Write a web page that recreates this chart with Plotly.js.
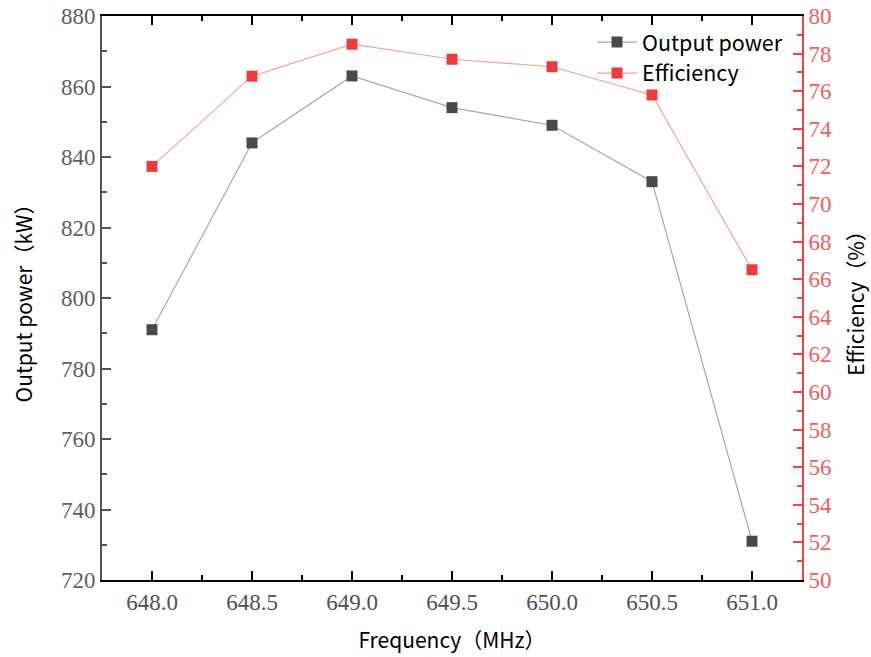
<!DOCTYPE html>
<html>
<head>
<meta charset="utf-8">
<script src="https://cdn.plot.ly/plotly-3.0.1.min.js"></script>
<style>html,body{margin:0;padding:0;background:#fff;}#chart{width:871px;height:657px;}</style>
</head>
<body>
<div id="chart"></div>
<script>
const frequency = [648.0, 648.5, 649.0, 649.5, 650.0, 650.5, 651.0];
const outputPower = [791, 844, 863, 854, 849, 833, 731];
const efficiency = [72.0, 76.8, 78.5, 77.7, 77.3, 75.8, 66.5];
const xTickVals = [648.0, 648.5, 649.0, 649.5, 650.0, 650.5, 651.0];
const xTickText = ['648.0', '648.5', '649.0', '649.5', '650.0', '650.5', '651.0'];

const serif = 'Liberation Serif, Times New Roman, serif';
const sans = 'Noto Sans CJK SC, Noto Sans, sans-serif';

const traces = [
  {
    x: frequency, y: outputPower, name: 'Output power', type: 'scatter', mode: 'lines+markers',
    line: {color: '#a8a8a8', width: 1.2},
    marker: {symbol: 'square', size: 11, color: '#4a4a4a'},
    yaxis: 'y'
  },
  {
    x: frequency, y: efficiency, name: 'Efficiency', type: 'scatter', mode: 'lines+markers',
    line: {color: '#f7a0a0', width: 1.2},
    marker: {symbol: 'square', size: 11, color: '#ee3b3b'},
    yaxis: 'y2'
  }
];

const layout = {
  width: 871, height: 657,
  margin: {l: 102, r: 69, t: 16, b: 77},
  paper_bgcolor: '#fff', plot_bgcolor: '#fff',
  showlegend: true,
  legend: {x: 0.70, y: 0.99, xanchor: 'left', yanchor: 'top', bgcolor: 'rgba(0,0,0,0)',
           font: {family: sans, size: 21.5, color: '#000'}, tracegroupgap: 0, itemwidth: 40},
  xaxis: {
    range: [647.75, 651.25], tickvals: xTickVals, ticktext: xTickText,
    showgrid: false, zeroline: false,
    showline: true, linecolor: '#000', linewidth: 2, mirror: 'ticks',
    ticks: 'inside', ticklen: 9, tickwidth: 2, tickcolor: '#000',
    minor: {dtick: 0.25, ticks: 'inside', ticklen: 5, tickwidth: 2, tickcolor: '#000'},
    tickfont: {family: serif, size: 23, color: '#505050'},
    title: {text: 'Frequency（MHz）', font: {family: sans, size: 21, color: '#000'}, standoff: 20}
  },
  yaxis: {
    range: [720, 880], dtick: 20,
    showgrid: false, zeroline: false,
    showline: true, linecolor: '#555', linewidth: 2,
    ticks: 'inside', ticklen: 9, tickwidth: 2, tickcolor: '#555',
    minor: {dtick: 10, ticks: 'inside', ticklen: 5, tickwidth: 2, tickcolor: '#555'},
    tickfont: {family: serif, size: 23, color: '#606060'},
    title: {text: 'Output power（kW）', font: {family: sans, size: 21, color: '#000'}, standoff: 23}
  },
  yaxis2: {
    range: [50, 80], dtick: 2, overlaying: 'y', side: 'right',
    showgrid: false, zeroline: false,
    showline: true, linecolor: '#f04545', linewidth: 2,
    ticks: 'inside', ticklen: 9, tickwidth: 2, tickcolor: '#f04545',
    minor: {dtick: 1, ticks: 'inside', ticklen: 5, tickwidth: 2, tickcolor: '#f04545'},
    tickfont: {family: serif, size: 23, color: '#f06060'},
    title: {text: 'Efficiency（%）', font: {family: sans, size: 21, color: '#000'}, standoff: 18}
  }
};

Plotly.newPlot('chart', traces, layout, {displayModeBar: false, staticPlot: true});
</script>
</body>
</html>
